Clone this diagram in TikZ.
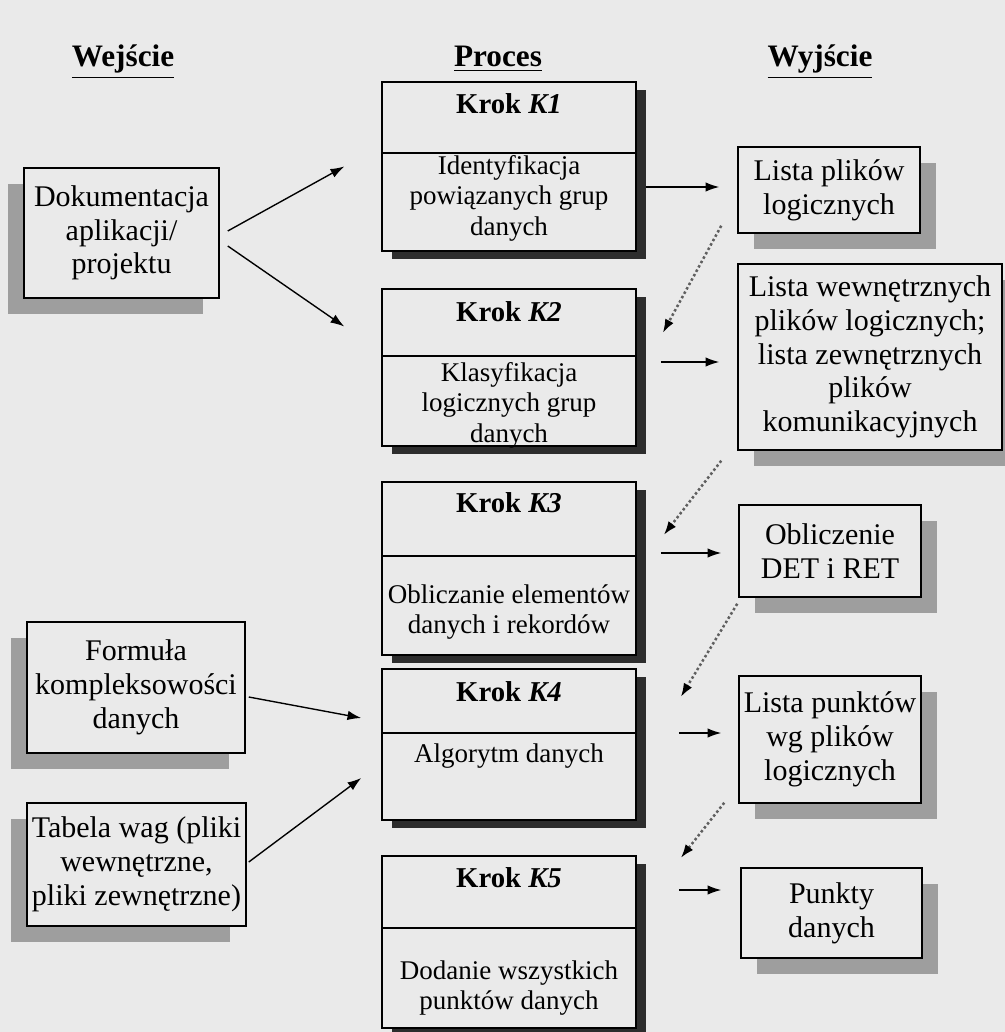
\documentclass[tikz,border=0pt]{standalone}
\usepackage{fontspec}
\setmainfont{Liberation Serif}
\usetikzlibrary{arrows.meta,calc,shadows}
\definecolor{papier}{RGB}{234,234,234}
\definecolor{cien}{RGB}{158,158,158}
\definecolor{ciemny}{RGB}{45,45,45}
\definecolor{szary}{RGB}{95,95,95}

\begin{document}
\begin{tikzpicture}[x=0.4pt, y=-0.4pt,
	naglowek/.style={font=\fontsize{12.5}{14}\selectfont\bfseries, inner sep=0pt, anchor=base},
	wejscie/.style={draw, fill=papier, line width=0.6pt, align=center, inner sep=0pt, font=\fontsize{12}{13.5}\selectfont, general shadow={fill=cien, shadow xshift=-6.4pt, shadow yshift=-6.4pt}},
	wyjscie/.style={draw, fill=papier, line width=0.6pt, align=center, inner sep=0pt, font=\fontsize{12}{13.5}\selectfont, general shadow={fill=cien, shadow xshift=6.4pt, shadow yshift=-6.4pt}},
	krok/.style={draw, fill=papier, line width=0.6pt, minimum width=101.6pt, inner sep=0pt, general shadow={fill=ciemny, shadow xshift=4pt, shadow yshift=-3.2pt}},
	tytul/.style={font=\fontsize{11.5}{13}\selectfont\bfseries, inner sep=0pt},
	opis/.style={font=\fontsize{10.8}{12.2}\selectfont, align=center, inner sep=0pt},
	strzalka/.style={-{Latex[length=5.5pt, width=3.8pt]}, line width=0.55pt},
	kropki/.style={-{Latex[length=5.5pt, width=3.8pt, color=black]}, szary, densely dotted, line width=1pt}]
	\fill [papier] (0,0) rectangle (1005,1032);
	\useasboundingbox (0,0) rectangle (1005,1032);
	% nagłówki
	\node [naglowek] (wej) at (123,67) {\underline{Wejście}};
	\node [naglowek] (proc) at (498,67) {\underline{Proces}};
	\node [naglowek] (wyj) at (820,67) {\underline{Wyjście}};
	% wejście
	\node [wejscie, minimum width=78pt, minimum height=52pt] (dok) at (121.5,233) {Dokumentacja\\aplikacji/\\projektu};
	\node [wejscie, minimum width=87.2pt, minimum height=52.4pt] (form) at (136,687.5) {Formuła\\kompleksowości\\danych};
	\node [wejscie, minimum width=87.6pt, minimum height=49.2pt] (tab) at (136.5,864.5) {Tabela wag (pliki\\wewnętrzne,\\pliki zewnętrzne)};
	% proces
	\node [krok, minimum height=67.6pt] (k1) at (509,166.5) {};
	\node [krok, minimum height=62.8pt] (k2) at (509,367.5) {};
	\node [krok, minimum height=69.2pt] (k3) at (509,568.5) {};
	\node [krok, minimum height=60.4pt] (k4) at (509,744.5) {};
	\node [krok, minimum height=68.8pt] (k5) at (509,942) {};
	\foreach \k/\y in {k1/153, k2/356, k3/556, k4/733, k5/928}
		\draw [line width=0.6pt] (\k.west |- 0,\y) -- (\k.east |- 0,\y);
	\node [tytul] (k1a) at (509,104) {Krok \textit{K1}};
	\node [tytul] (k2a) at (509,312) {Krok \textit{K2}};
	\node [tytul] (k3a) at (509,503) {Krok \textit{K3}};
	\node [tytul] (k4a) at (509,692) {Krok \textit{K4}};
	\node [tytul] (k5a) at (509,878) {Krok \textit{K5}};
	\node [opis] (k1b) at (509,198) {Identyfikacja\\powiązanych grup\\danych};
	\node [opis] (k2b) at (509,405) {Klasyfikacja\\logicznych grup\\danych};
	\node [opis] (k3b) at (509,612) {Obliczanie elementów\\danych i rekordów};
	\node [opis] (k4b) at (509,756) {Algorytm danych};
	\node [opis] (k5b) at (509,988) {Dodanie wszystkich\\punktów danych};
	% wyjście
	\node [wyjscie, minimum width=72.8pt, minimum height=34.4pt] (lp) at (829,190) {Lista plików\\logicznych};
	\node [wyjscie, minimum width=105.6pt, minimum height=74.4pt] (lw) at (870,357) {Lista wewnętrznych\\plików logicznych;\\lista zewnętrznych\\plików\\komunikacyjnych};
	\node [wyjscie, minimum width=72.8pt, minimum height=36.8pt] (obl) at (830,551) {Obliczenie\\DET i RET};
	\node [wyjscie, minimum width=72.8pt, minimum height=50.8pt] (lpk) at (830,739.5) {Lista punktów\\wg plików\\logicznych};
	\node [wyjscie, minimum width=72.4pt, minimum height=36pt] (pkt) at (831.5,913) {Punkty\\danych};
	% strzałki wejście -> proces
	\draw [strzalka] ($(dok.east)+(8,-2)$) -- ($(k1.west)+(-37,0)$);
	\draw [strzalka] ($(dok.east)+(8,13)$) -- ($(k2.west)+(-37,-41)$);
	\draw [strzalka] ($(form.east)+(3,9.5)$) -- ($(k4.west)+(-20,-26.5)$);
	\draw [strzalka] ($(tab.east)+(2,-2.5)$) -- ($(k4.west)+(-20,33.5)$);
	% strzałki proces -> wyjście
	\draw [strzalka] ($(k1.east)+(9,20.5)$) -- ($(lp.west)+(-18,-3)$);
	\draw [strzalka] ($(k2.east)+(24,-5.5)$) -- ($(lw.west)+(-18,5)$);
	\draw [strzalka] ($(k3.east)+(24,-15.5)$) -- ($(obl.west)+(-17,2)$);
	\draw [strzalka] ($(k4.east)+(42,-11.5)$) -- ($(lpk.west)+(-17,-6.5)$);
	\draw [strzalka] ($(k5.east)+(42,-52)$) -- ($(pkt.west)+(-19,-23)$);
	% wyjście -> następny krok
	\draw [kropki] ($(lp.south west)+(-16,-8)$) -- ($(k2.east)+(26,-34.5)$);
	\draw [kropki] ($(lw.south west)+(-16,10)$) -- ($(k3.east)+(27,-33.5)$);
	\draw [kropki] ($(obl.south west)+(-1,6)$) -- ($(k4.east)+(44,-47.5)$);
	\draw [kropki] ($(lpk.south west)+(-14,-1)$) -- ($(k5.east)+(44,-84)$);
\end{tikzpicture}
\end{document}
